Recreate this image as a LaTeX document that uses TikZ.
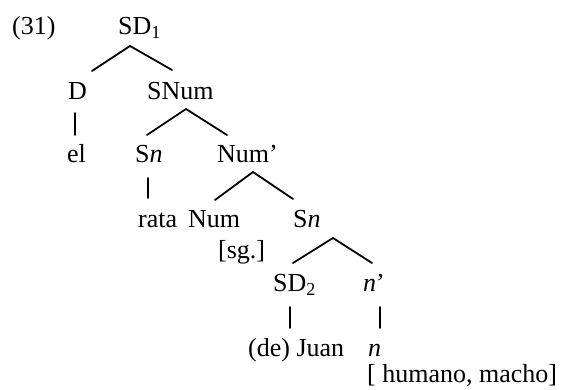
\documentclass[tikz,border=0pt]{standalone}
\usepackage{fontspec}
\setmainfont{Liberation Serif}
\begin{document}
\begin{tikzpicture}[x=1pt,y=-1pt,
  lbl/.style={anchor=base west, inner sep=0pt, font=\fontsize{26}{30}\selectfont},
  edge/.style={line width=1.8pt, line cap=round}]
\useasboundingbox (0,0) rectangle (563,390);
\node[lbl] (ex) at (12,35) {(31)};
\node[lbl] (sd1) at (118,35) {SD\textsubscript{1}};
\node[lbl] (d) at (68,100) {D};
\node[lbl] (snum) at (147,100) {SNum};
\node[lbl] (el) at (67,163) {el};
\node[lbl] (sn1) at (135,163) {S\textit{n}};
\node[lbl] (numb) at (217,163) {Num’};
\node[lbl] (rata) at (138,228) {rata};
\node[lbl] (num) at (188,228) {Num};
\node[lbl] (sn2) at (293,228) {S\textit{n}};
\node[lbl] (sg) at (218,259) {[sg.]};
\node[lbl] (sd2) at (273,292) {SD\textsubscript{2}};
\node[lbl] (nb) at (363,292) {\textit{n}’};
\node[lbl] (juan) at (248,357) {(de) Juan};
\node[lbl] (n) at (368,357) {\textit{n}};
\node[lbl] (feat) at (367,383) {[ humano, macho]};
\draw[edge] ([shift={(12,11)}]sd1.base west) -- ([shift={(24,-29)}]d.base west);
\draw[edge] ([shift={(12,11)}]sd1.base west) -- ([shift={(25,-30)}]snum.base west);
\draw[edge] ([shift={(7,13)}]d.base west) -- ([shift={(8,-28)}]el.base west);
\draw[edge] ([shift={(39,9)}]snum.base west) -- ([shift={(12,-28)}]sn1.base west);
\draw[edge] ([shift={(39,9)}]snum.base west) -- ([shift={(10,-28)}]numb.base west);
\draw[edge] ([shift={(13,15)}]sn1.base west) -- ([shift={(10,-30)}]rata.base west);
\draw[edge] ([shift={(36,9)}]numb.base west) -- ([shift={(27,-28)}]num.base west);
\draw[edge] ([shift={(36,9)}]numb.base west) -- ([shift={(0,-29)}]sn2.base west);
\draw[edge] ([shift={(40,10)}]sn2.base west) -- ([shift={(20,-29)}]sd2.base west);
\draw[edge] ([shift={(40,10)}]sn2.base west) -- ([shift={(9,-29)}]nb.base west);
\draw[edge] ([shift={(17,15)}]sd2.base west) -- ([shift={(42,-29)}]juan.base west);
\draw[edge] ([shift={(17,15)}]nb.base west) -- ([shift={(12,-29)}]n.base west);
\end{tikzpicture}
\end{document}
